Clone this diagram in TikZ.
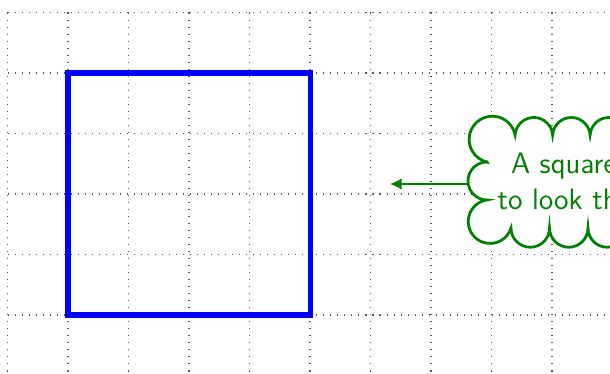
\documentclass[tikz,border=0pt]{standalone}
\usetikzlibrary{arrows.meta}
\definecolor{notegreen}{RGB}{0,128,0}
\tikzset{
  gridline/.style={black!65, line width=0.55pt, dash pattern=on 0.5pt off 2.8pt},
  squareline/.style={blue, line width=2.6pt},
  cloudline/.style={draw=notegreen, fill=white, line width=1.3pt},
  notetext/.style={text=notegreen, font=\sffamily\fontsize{13.9}{16.8}\selectfont,
    align=center, inner sep=0pt, minimum width=4.165cm},
  pointer/.style={notegreen, line width=0.7pt, -{Latex[length=5.5pt,width=5.4pt]}}
}
\begin{document}
% one unit = one pixel step of a 60.5-per-cm grid; y runs downward as negative
\begin{tikzpicture}[x=0.016529cm, y=0.016529cm]
  \useasboundingbox (0,0) rectangle (610,-374);
  \clip (0,0) rectangle (610,-374);

  % dotted help grid
  \foreach \k in {0,...,10}
    \draw[gridline] ({7.5+60.5*\k},-12.5) -- ({7.5+60.5*\k},-390);
  \foreach \k in {0,...,6}
    \draw[gridline] (7.5,{-12.5-60.5*\k}) -- (640,{-12.5-60.5*\k});

  % the square
  \draw[squareline] (68,-73) rectangle (310.5,-315);

  % cloud outline: corner puff, top puffs, bottom puffs, corner puff, side puff
  \draw[cloudline] (487,-162)
    arc[start angle=256.8, end angle=11, radius=23.2]
    arc[start angle=176, end angle=4, radius=18.8]
    arc[start angle=176, end angle=4, radius=18.8]
    arc[start angle=176, end angle=4, radius=18.8]
    arc[start angle=176, end angle=4, radius=18.8]
    arc[start angle=176, end angle=4, radius=18.8]
    -- (730,-135) -- (730,-228) -- (703.5,-228)
    arc[start angle=0, end angle=-180, radius=19.25]
    arc[start angle=0, end angle=-180, radius=19.25]
    arc[start angle=0, end angle=-180, radius=19.25]
    arc[start angle=0, end angle=-180, radius=19.25]
    arc[start angle=0, end angle=-180, radius=19.25]
    arc[start angle=-17.03, end angle=-261.8, radius=21.86]
    arc[start angle=-90, end angle=-270, radius=19]
    -- cycle;

  \node[notetext] (cloud) at (594,-184) {A square tries\\to look this way};

  \coordinate (tip) at (390,-184);
  \draw[pointer] (cloud.west) -- (tip);
\end{tikzpicture}
\end{document}
